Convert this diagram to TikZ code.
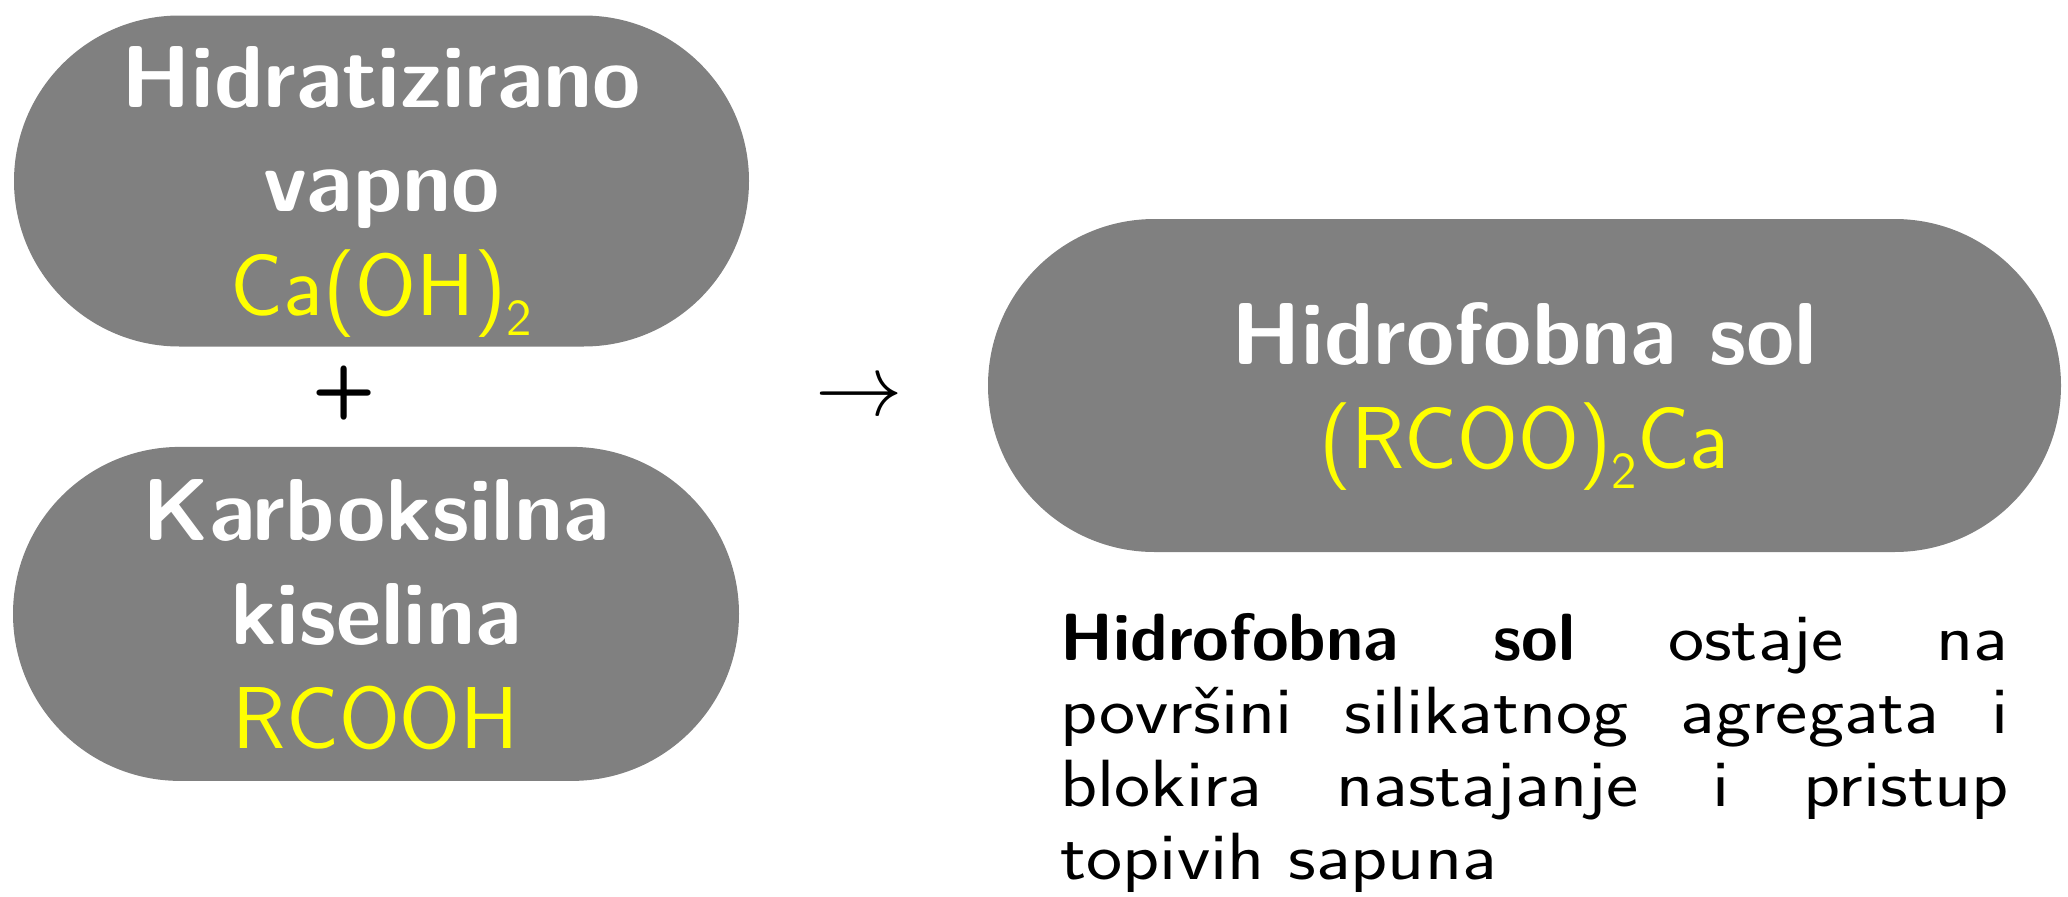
\documentclass[tikz,border=0pt]{standalone}
\usepackage{fontspec}
\usepackage{tikz}
\usetikzlibrary{positioning,shapes.misc}
\newfontfamily\notefont{Latin Modern Sans}[FakeStretch=1.15,BoldFeatures={FakeStretch=1.0}]
\definecolor{PillGray}{HTML}{808080}
\definecolor{Formula}{HTML}{FFFF00}
\newcommand{\chemsub}[1]{\raisebox{-5.7pt}{\fontsize{14.7}{15}\selectfont #1}}
\newcommand{\formula}[1]{\raisebox{0pt}[\height][0pt]{\mdseries\color{Formula}#1}}

\begin{document}
\begin{tikzpicture}[x=0.1mm,y=-0.1mm,every node/.style={font=\sffamily},
  pill/.style={rounded rectangle,fill=PillGray,inner sep=0pt,align=center,text=white,
    font=\sffamily\bfseries\fontsize{25}{29.7}\selectfont}]
  \useasboundingbox (0,0) rectangle (2068,897);
  \node[pill,minimum width=73.5mm,minimum height=33.1mm] (lime) at (381.5,181)
    {Hidratizirano\\vapno\\\formula{Ca(OH)\chemsub{2}}};
  \node[font=\sffamily\bfseries\fontsize{21}{21}\selectfont] (plus) at (344,393) {+};
  \node[pill,minimum width=72.6mm,minimum height=33.4mm,below=9.9mm of lime,xshift=-0.55mm] (acid)
    {Karboksilna\\kiselina\\\formula{RCOOH}};
  \node[font=\fontsize{23.5}{28}\selectfont] (yields) at (859,399) {$\rightarrow$};
  \node[pill,minimum width=107.3mm,minimum height=33.3mm] (salt) at (1524.5,385.5)
    {Hidrofobna sol\\\formula{(RCOO)\chemsub{2}Ca}};
  \node[below=6mm of salt,xshift=1.0mm,text width=94.8mm,align=justify,inner sep=0pt,
    font=\notefont\fontsize{19}{20.8}\selectfont] (note)
    {\textbf{Hidrofobna sol} ostaje na\linebreak površini silikatnog agregata i\linebreak
     blokira nastajanje i pristup\linebreak topivih sapuna};
\end{tikzpicture}
\end{document}
